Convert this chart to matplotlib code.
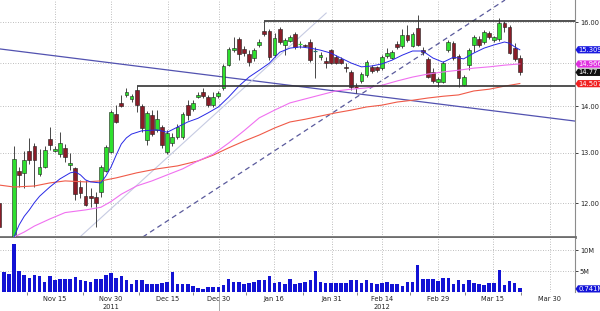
import matplotlib
matplotlib.use("Agg")
import matplotlib.pyplot as plt
import matplotlib.transforms as mtransforms
from matplotlib.patches import Polygon
from matplotlib.ticker import NullLocator, NullFormatter

# daily OHLC, one entry per session (session 0 = left edge of the chart)
opens = [12.01, 11.20, 11.10, 11.25, 12.63, 12.59, 13.04, 13.14, 12.57, 12.71,
         13.29, 13.04, 12.97, 13.10, 12.75, 12.69, 12.31, 12.13, 12.13, 12.11,
         12.21, 12.63, 13.01, 13.82, 14.07, 14.25, 14.16, 14.36, 14.00, 13.26,
         13.80, 13.48, 13.54, 13.01, 13.20, 13.33, 13.33, 14.02, 13.93, 14.20,
         14.31, 14.20, 14.02, 14.22, 14.41, 14.94, 15.30, 15.57, 15.33, 15.21,
         15.11, 15.43, 15.77, 15.77, 15.18, 15.82, 15.43, 15.52, 15.70, 15.43,
         15.43, 15.50, 15.27, 15.13, 15.04, 15.30, 15.13, 15.09, 14.90, 14.78,
         14.43, 14.57, 14.71, 14.90, 14.90, 14.87, 15.16, 15.11, 15.45, 15.40,
         15.67, 15.40, 15.85, 15.30, 15.09, 14.78, 14.54, 14.54, 15.30, 15.47,
         15.16, 14.47, 14.94, 15.43, 15.57, 15.50, 15.72, 15.55, 15.57, 15.97,
         15.87, 15.35, 15.11]
highs = [12.09, 11.30, 11.25, 13.14, 12.71, 13.04, 13.31, 13.20, 13.08, 13.14,
         13.54, 13.14, 13.43, 13.18, 12.99, 12.71, 12.45, 12.45, 12.29, 12.21,
         12.75, 13.16, 13.91, 14.02, 14.25, 14.41, 14.27, 14.45, 14.04, 13.89,
         13.91, 13.91, 13.58, 13.48, 13.41, 13.61, 13.87, 14.13, 14.13, 14.31,
         14.41, 14.25, 14.31, 14.34, 14.97, 15.38, 15.62, 15.62, 15.40, 15.30,
         15.35, 15.57, 16.03, 15.82, 15.72, 15.87, 15.60, 15.67, 15.75, 15.52,
         15.45, 15.57, 15.38, 15.25, 15.13, 15.33, 15.18, 15.13, 14.99, 14.82,
         14.52, 14.78, 15.06, 14.94, 14.92, 15.18, 15.35, 15.30, 15.52, 15.82,
         15.92, 15.75, 16.18, 15.38, 15.13, 14.87, 14.66, 15.04, 15.55, 15.52,
         15.21, 14.71, 15.35, 15.67, 15.65, 15.80, 15.77, 15.65, 16.10, 16.03,
         15.92, 15.47, 15.18]
lows = [11.46, 11.05, 11.00, 11.20, 12.31, 12.29, 12.77, 12.31, 12.53, 12.69,
        13.06, 13.01, 12.91, 12.81, 12.65, 12.05, 12.09, 11.94, 11.92, 11.55,
        12.11, 12.61, 12.99, 13.63, 13.98, 14.20, 14.09, 13.87, 13.43, 13.16,
        13.35, 13.43, 13.10, 12.97, 13.14, 13.29, 13.29, 13.69, 13.89, 14.18,
        14.18, 13.98, 13.98, 14.18, 14.36, 14.92, 15.25, 15.06, 15.16, 14.92,
        15.04, 15.38, 15.65, 15.06, 15.13, 15.45, 15.18, 15.50, 15.33, 15.35,
        15.38, 15.01, 14.64, 15.06, 14.87, 14.97, 14.97, 14.97, 14.78, 14.36,
        14.29, 14.52, 14.66, 14.75, 14.78, 14.82, 15.11, 15.09, 15.33, 15.35,
        15.50, 15.38, 15.40, 15.18, 14.64, 14.52, 14.43, 14.52, 15.25, 15.06,
        14.43, 14.45, 14.82, 15.25, 15.38, 15.45, 15.57, 15.50, 15.52, 15.75,
        15.21, 15.04, 14.71]
closes = [11.55, 11.15, 11.20, 12.87, 12.55, 12.85, 12.85, 12.85, 12.71, 13.06,
          13.16, 13.08, 13.20, 12.91, 12.79, 12.17, 12.19, 11.97, 12.09, 12.01,
          12.71, 13.12, 13.87, 13.65, 14.00, 14.31, 14.22, 14.02, 13.52, 13.85,
          13.39, 13.71, 13.16, 13.41, 13.33, 13.54, 13.82, 13.80, 14.07, 14.25,
          14.22, 14.02, 14.20, 14.29, 14.92, 15.33, 15.35, 15.21, 15.23, 15.01,
          15.30, 15.50, 15.70, 15.13, 15.60, 15.50, 15.55, 15.62, 15.38, 15.45,
          15.40, 15.06, 15.27, 15.18, 14.99, 14.99, 14.99, 14.99, 14.87, 14.43,
          14.41, 14.73, 15.01, 14.80, 14.82, 15.13, 15.23, 15.25, 15.38, 15.67,
          15.55, 15.70, 15.43, 15.25, 14.66, 14.57, 14.61, 14.99, 15.50, 15.11,
          14.64, 14.66, 15.30, 15.62, 15.43, 15.75, 15.62, 15.62, 15.97, 15.87,
          15.23, 15.09, 14.77]
volume = [4.5, 4.8, 4.2, 11.5, 5.0, 4.1, 3.3, 4.1, 3.8, 2.4,
          3.9, 2.9, 3.0, 3.0, 3.0, 3.5, 2.8, 2.7, 2.4, 3.0,
          3.2, 4.1, 4.5, 3.3, 3.9, 2.8, 1.8, 2.8, 2.8, 2.0,
          1.8, 2.0, 2.1, 2.5, 4.8, 1.8, 1.8, 2.0, 1.4, 1.0,
          0.8, 1.3, 1.3, 1.2, 1.6, 3.0, 2.4, 2.4, 1.8, 2.1,
          2.5, 2.8, 2.8, 3.9, 2.1, 2.3, 2.0, 3.0, 2.0, 2.1,
          2.4, 2.8, 5.0, 2.4, 2.1, 2.2, 2.1, 2.1, 2.1, 2.9,
          2.8, 2.2, 2.9, 2.2, 1.8, 2.1, 2.4, 2.0, 2.0, 1.4,
          2.4, 2.5, 6.4, 3.2, 3.2, 3.2, 2.6, 3.4, 3.4, 2.0,
          2.9, 2.0, 2.8, 2.2, 1.8, 1.7, 2.2, 2.2, 5.2, 1.7,
          2.6, 2.2, 1.0]  # millions

# moving averages, read at some sessions
ma_blue_x = [2, 3, 4, 5, 6, 7, 8, 10, 12, 14, 15, 16, 17, 18, 20, 21, 22, 23, 24, 25, 26, 28, 31, 33,
             35, 37, 39, 41, 43, 45, 47, 49, 51, 53, 55, 57, 59, 61, 63, 65, 67, 69, 71, 73, 75,
             77, 79, 81, 83, 85, 87, 89, 91, 93, 95, 97, 99, 100, 101, 102]
ma_blue = [11.10, 11.37, 11.59, 11.75, 11.87, 12.01, 12.13, 12.31, 12.47, 12.59, 12.61, 12.55, 12.45,
           12.41, 12.39, 12.53, 12.71, 12.95, 13.18, 13.31, 13.39, 13.46, 13.48, 13.43, 13.54,
           13.65, 13.73, 13.85, 13.98, 14.20, 14.45, 14.66, 14.82, 14.99, 15.25, 15.35, 15.38,
           15.35, 15.30, 15.23, 15.11, 14.99, 14.90, 14.92, 14.97, 15.06, 15.18, 15.28, 15.28,
           15.11, 15.01, 15.13, 15.09, 15.23, 15.35, 15.43, 15.50, 15.47, 15.38, 15.31]
ma_pink_x = [0, 3, 5, 7, 10, 13, 17, 20, 22, 24, 27, 30, 33, 36, 39, 42, 45, 48, 51, 54, 57,
             60, 63, 66, 69, 72, 75, 78, 81, 84, 87, 90, 93, 96, 99, 102]
ma_pink = [11.10, 11.37, 11.46, 11.57, 11.70, 11.82, 11.87, 11.92, 12.03, 12.17, 12.33, 12.43,
           12.55, 12.67, 12.83, 12.97, 13.20, 13.46, 13.74, 13.91, 14.07, 14.16, 14.25, 14.34,
           14.38, 14.41, 14.47, 14.57, 14.66, 14.73, 14.78, 14.82, 14.87, 14.90, 14.94, 14.97]
ma_red_x = [0, 3, 7, 10, 13, 17, 20, 23, 27, 31, 35, 39, 42, 45, 48, 51, 54, 57, 60, 63, 66,
            69, 72, 75, 78, 81, 84, 87, 90, 93, 96, 99, 102]
ma_red = [12.35, 12.31, 12.33, 12.39, 12.43, 12.41, 12.43, 12.49, 12.59, 12.67, 12.73, 12.83,
          12.95, 13.10, 13.24, 13.37, 13.52, 13.65, 13.71, 13.78, 13.85, 13.91, 13.98, 14.02,
          14.09, 14.13, 14.18, 14.22, 14.25, 14.34, 14.38, 14.45, 14.51]

# hand-drawn study lines (session, price)
trend_x, trend_y = [0.26, 112.8], [15.33, 13.67]
light_x, light_y = [15.9, 64.1], [11.37, 16.23]
dash_x, dash_y = [28.2, 99.1], [11.37, 16.57]
resist_x, resist_y = [51.9, 113], 16.02
support_x, support_y = [27, 113], 14.45

# right-hand value flags
flag_vals = [15.3099, 14.9664, 14.77, 14.5071]
flag_txt = ['15.3099', '14.9664', '14.77', '14.5071']
flag_cols = ['#1a1ae0', '#e030e0', '#101010', '#f02020']
vol_flag_val, vol_flag_txt = 0.741, '0.741M'

price_ticks = [12, 13, 14, 15, 16]
price_labels = ['12.00', '13.00', '14.00', '', '16.00']  # 15.00 sits under the flags
vol_ticks = [5, 10]
vol_labels = ['5M', '10M']
tick_pos = [11, 22, 33.1, 43.1, 53.9, 65.2, 75, 86, 96.7, 107.9]
tick_lab = ['Nov 15', 'Nov 30', 'Dec 15', 'Dec 30', 'Jan 16', 'Jan 31', 'Feb 14', 'Feb 29',
            'Mar 15', 'Mar 30']
years = [(22, '2011'), (75, '2012')]

W, H = 600, 311
fig = plt.figure(figsize=(6, 3.11), dpi=100)
ax = fig.add_axes([0, 74 / H, 575 / W, 237 / H])
ax2 = fig.add_axes([0, 19 / H, 575 / W, 54 / H])

up_col, down_col, flat_col = '#2ee02e', '#8b1c28', '#2a7070'
grid_kw = dict(linestyle=(0, (1, 2)), color='#a8a8a8', lw=0.6)

ax.set_yscale('log')
for i in range(len(closes)):
    o, h, l, c = opens[i], highs[i], lows[i], closes[i]
    col = up_col if c > o else (down_col if c < o else flat_col)
    ax.vlines(i, l, h, color='#2a2a2a', lw=0.6, zorder=3)
    lo, hi = min(o, c), max(o, c)
    if hi - lo < 0.025:
        ax.hlines((o + c) / 2, i - 0.4, i + 0.4, color=col, lw=0.9, zorder=4)
    else:
        ax.bar(i, hi - lo, bottom=lo, width=0.74, color=col, edgecolor='#1e1e1e', lw=0.4, zorder=4)

ax.plot(trend_x, trend_y, color='#5252b0', lw=0.9, zorder=2)
ax.plot(light_x, light_y, color='#c6cbe2', lw=0.8, zorder=2)
ax.plot(dash_x, dash_y, color='#5a5a9c', lw=0.9, dashes=(4, 3), zorder=2)
ax.plot(ma_red_x, ma_red, color='#f05a48', lw=0.8, zorder=5)
ax.plot(ma_pink_x, ma_pink, color='#f070f0', lw=0.8, zorder=5)
ax.plot(ma_blue_x, ma_blue, color='#2828e6', lw=0.7, zorder=5)
ax.hlines(resist_y, resist_x[0], resist_x[1], color='#333333', lw=1.2, zorder=6)
ax.hlines(support_y, support_x[0], support_x[1], color='#333333', lw=1.2, zorder=6)

ax.set_xlim(0.26, 112.8)
ax.set_ylim(11.37, 16.57)
ax.yaxis.tick_right()
ax.set_yticks(price_ticks)
ax.set_yticklabels(price_labels)
ax.yaxis.set_minor_locator(NullLocator())
ax.yaxis.set_minor_formatter(NullFormatter())
ax.tick_params(axis='y', length=2, width=0.6, pad=1.5, labelsize=4.8, colors='#222222')
ax.set_xticks(tick_pos)
ax.set_xticklabels([])
ax.tick_params(axis='x', length=0)
ax.grid(True, **grid_kw)
ax.set_axisbelow(True)
for s in ['left', 'top']:
    ax.spines[s].set_visible(False)
ax.spines['right'].set_color('#8c8c8c')
ax.spines['right'].set_linewidth(0.8)
ax.spines['bottom'].set_color('#6e6e6e')
ax.spines['bottom'].set_linewidth(2.0)

# volume panel
ax2.bar(range(len(volume)), volume, width=0.7, color='#1212d4', zorder=3)
ax2.set_xlim(0.26, 112.8)
ax2.set_ylim(0, 12.86)
ax2.yaxis.tick_right()
ax2.set_yticks(vol_ticks)
ax2.set_yticklabels(vol_labels)
ax2.tick_params(axis='y', length=2, width=0.6, pad=1.5, labelsize=4.8, colors='#222222')
ax2.set_xticks(tick_pos)
ax2.set_xticklabels(tick_lab)
ax2.tick_params(axis='x', length=0, pad=3, labelsize=4.8, colors='#222222')
minor_pos = [tick_pos[0] - (tick_pos[1] - tick_pos[0]) / 2] + \
    [(a + b) / 2 for a, b in zip(tick_pos[:-1], tick_pos[1:])]
ax2.set_xticks(minor_pos, minor=True)
ax2.tick_params(axis='x', which='minor', length=2, width=0.5, color='#555555', direction='out')
ax2.grid(True, **grid_kw)
ax2.set_axisbelow(True)
for s in ['left', 'top', 'bottom']:
    ax2.spines[s].set_visible(False)
ax2.spines['right'].set_color('#8c8c8c')
ax2.spines['right'].set_linewidth(0.8)

trans = mtransforms.blended_transform_factory(ax2.transData, ax2.transAxes)
for xpos, yr in years:
    ax2.text(xpos, -0.28, yr, transform=trans, ha='center', va='center', fontsize=4.8,
             color='#222222')
ax2.plot([tick_pos[3], tick_pos[3]], [0, -0.36], transform=trans, clip_on=False,
         color='#9a9a9a', lw=0.6)


def flag(axis, value, text, color):
    ypx = axis.transData.transform((0, value))[1]
    x0 = 575.5
    pts = [(x0, ypx), (x0 + 2.5, ypx + 3.6), (W, ypx + 3.6), (W, ypx - 3.6), (x0 + 2.5, ypx - 3.6)]
    pts = [(px / W, py / H) for px, py in pts]
    fig.add_artist(Polygon(pts, closed=True, transform=fig.transFigure, facecolor=color,
                           edgecolor='none', zorder=10))
    fig.text((x0 + 3) / W, ypx / H, text, color='white', fontsize=4.9, ha='left',
             va='center', zorder=11, family=['Liberation Sans Narrow', 'DejaVu Sans'])


for v, t, c in zip(flag_vals, flag_txt, flag_cols):
    flag(ax, v, t, c)
flag(ax2, vol_flag_val, vol_flag_txt, '#1414d8')

fig.savefig('out.png', dpi=100)
